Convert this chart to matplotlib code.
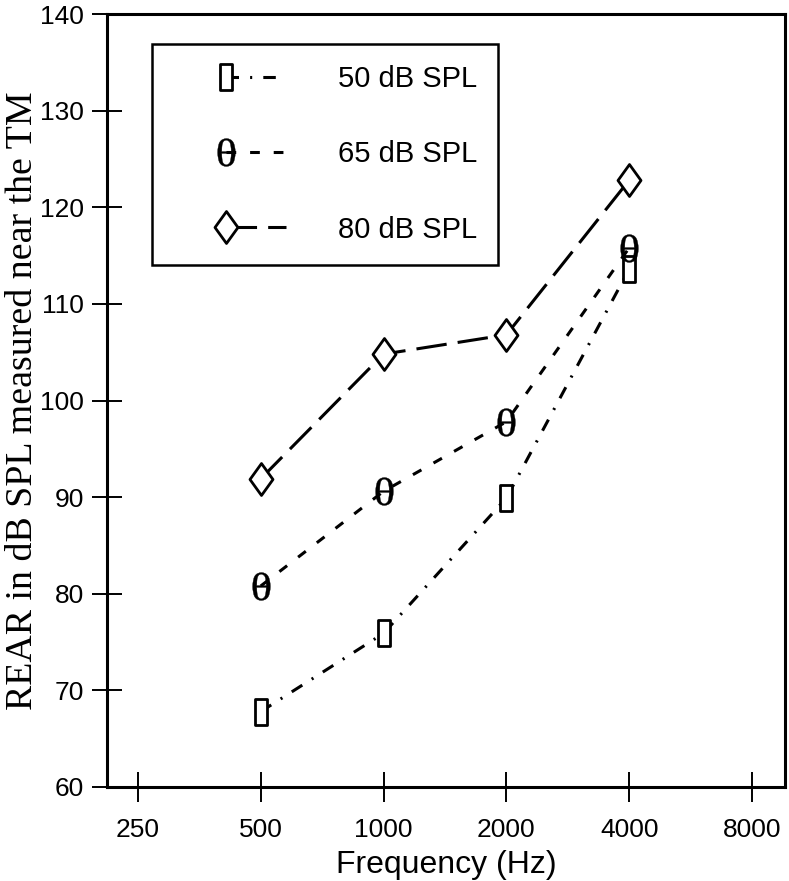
import numpy as np
import matplotlib
matplotlib.use('Agg')
import matplotlib.pyplot as plt
from matplotlib.lines import Line2D
from matplotlib.path import Path
from matplotlib.textpath import TextPath
from matplotlib.font_manager import FontProperties
from matplotlib.legend_handler import HandlerLine2DCompound
from matplotlib.ticker import FixedLocator, FixedFormatter, NullLocator

# =====================================================================
# DATA
# =====================================================================
freqs = [500, 1000, 2000, 4000]
rear_50 = [67.8, 75.9, 89.9, 113.6]
rear_65 = [80.8, 90.6, 97.8, 115.8]
rear_80 = [91.9, 104.8, 106.8, 122.8]
series_labels = ["50 dB SPL", "65 dB SPL", "80 dB SPL"]
x_ticks = [250, 500, 1000, 2000, 4000, 8000]
y_ticks = [60, 70, 80, 90, 100, 110, 120, 130, 140]

plt.rcParams['font.family'] = ['Liberation Sans', 'DejaVu Sans']
plt.rcParams['lines.scale_dashes'] = False


# --- hand-made markers ---
def glyph_marker(ch, family, xstretch=1.0):
    tp = TextPath((0, 0), ch, size=10, prop=FontProperties(family=family))
    ext = tp.get_extents()
    v = tp.vertices - [(ext.x0 + ext.x1) / 2, (ext.y0 + ext.y1) / 2]
    v[:, 0] *= xstretch
    return Path(v, tp.codes)

rect_marker = Path([(-0.22, -0.5), (0.22, -0.5), (0.22, 0.5), (-0.22, 0.5), (-0.22, -0.5)],
                   [Path.MOVETO, Path.LINETO, Path.LINETO, Path.LINETO, Path.CLOSEPOLY])
diamond_marker = Path([(0, 0.5), (0.36, 0), (0, -0.5), (-0.36, 0), (0, 0.5)],
                      [Path.MOVETO, Path.LINETO, Path.LINETO, Path.LINETO, Path.CLOSEPOLY])
theta_marker = glyph_marker("θ", "Liberation Serif", xstretch=1.15)


class MarkerFirstHandler(HandlerLine2DCompound):
    """Legend handle: marker sits left, the dashed line trails off to the right."""
    def get_xdata(self, legend, xdescent, ydescent, width, height, fontsize):
        mid = -xdescent + 0.47 * width
        return np.array([mid, -xdescent + width]), np.array([mid])


fig = plt.figure(figsize=(7.89, 8.81), dpi=100)
ax = fig.add_axes([0.1356, 0.1067, 0.8594, 0.8774])

lw = 2.2
l50, = ax.plot(freqs, rear_50, color='black', lw=lw, dashes=(9, 8, 1.5, 8),
               marker=rect_marker, ms=19, mfc='white', mec='black', mew=2.0,
               label=series_labels[0], zorder=3)
l65, = ax.plot(freqs, rear_65, color='black', lw=lw, dashes=(7, 10),
               marker=theta_marker, ms=20, mfc='black', mec='black', mew=0.3,
               label=series_labels[1], zorder=3)
l80, = ax.plot(freqs, rear_80, color='black', lw=lw, dashes=(22, 8),
               marker=diamond_marker, ms=23, mfc='white', mec='black', mew=2.0,
               label=series_labels[2], zorder=3)

ax.set_xscale('log')
ax.set_xlim(210, 9640)
ax.set_ylim(60, 140)
ax.xaxis.set_major_locator(FixedLocator(x_ticks))
ax.xaxis.set_major_formatter(FixedFormatter([str(t) for t in x_ticks]))
ax.xaxis.set_minor_locator(NullLocator())
ax.set_yticks(y_ticks)

for sp in ax.spines.values():
    sp.set_linewidth(2.2)
ax.tick_params(axis='both', direction='inout', length=21, width=1.4,
               labelsize=19, colors='black')
ax.tick_params(axis='y', pad=6)
ax.tick_params(axis='x', pad=12)

ax.set_xlabel("Frequency (Hz)", fontsize=23)
ax.xaxis.set_label_coords(0.5, -0.081)
ax.set_ylabel("REAR in dB SPL measured near the TM", fontsize=27.3,
              family=['Liberation Serif', 'DejaVu Serif'])
ax.yaxis.set_label_coords(-0.099, 0.5)

leg = ax.legend(handles=[l50, l65, l80], loc='upper left',
                bbox_to_anchor=(0.066, 0.961), fontsize=21, frameon=True,
                fancybox=False, framealpha=1, edgecolor='black',
                borderpad=0.72, labelspacing=1.62, handlelength=3.9,
                handletextpad=1.75, borderaxespad=0,
                handler_map={Line2D: MarkerFirstHandler()})
leg.get_frame().set_linewidth(1.8)

fig.savefig("out.png", dpi=100)
